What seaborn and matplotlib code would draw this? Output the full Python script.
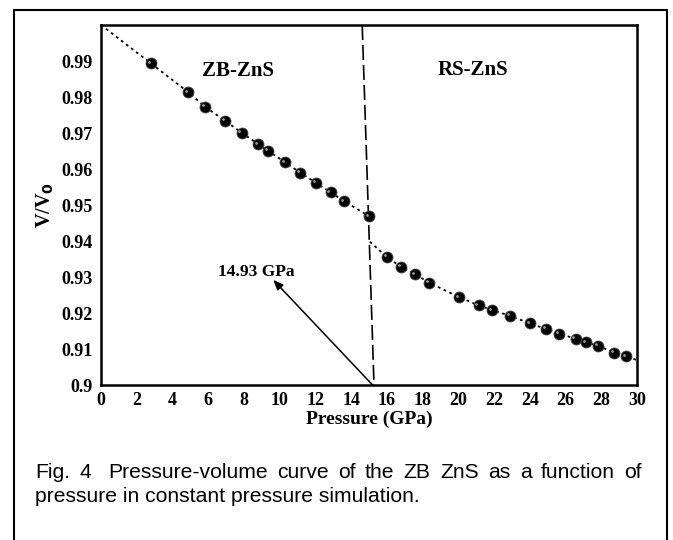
import matplotlib
matplotlib.use("Agg")
import matplotlib.pyplot as plt
import seaborn as sns
import pandas as pd
from matplotlib.patches import Rectangle

# ---- data ----
zb_p = [2.78, 4.89, 5.82, 6.94, 7.87, 8.80, 9.33, 10.30, 11.14, 12.03, 12.85, 13.6, 15.0]
zb_v = [0.9894, 0.9813, 0.9773, 0.9734, 0.9701, 0.9669, 0.9651, 0.9619, 0.9590,
        0.9562, 0.9535, 0.9511, 0.9469]
rs_p = [15.99, 16.79, 17.57, 18.37, 20.05, 21.13, 21.90, 22.9, 24.0, 24.9, 25.65,
        26.56, 27.14, 27.8, 28.74, 29.38]
rs_v = [0.9356, 0.9328, 0.9308, 0.9284, 0.9244, 0.9221, 0.9208, 0.9192, 0.9171,
        0.9156, 0.9142, 0.9129, 0.9119, 0.9109, 0.9090, 0.9080]
# fitted-curve end points
zb_line_p = [0.0] + zb_p
zb_line_v = [1.0] + zb_v
rs_line_p = [15.05] + rs_p + [30.0]
rs_line_v = [0.9398] + rs_v + [0.9069]
# transition (dashed) line
trans_p = [14.62, 15.28]
trans_v = [1.0, 0.9]
transition_label = "14.93 GPa"
x_ticks = list(range(0, 31, 2))
y_ticks = [0.9, 0.91, 0.92, 0.93, 0.94, 0.95, 0.96, 0.97, 0.98, 0.99]
y_tick_labels = ["0.9", "0.91", "0.92", "0.93", "0.94", "0.95", "0.96", "0.97", "0.98", "0.99"]
caption_line1 = ["Fig.", "4", "", "Pressure-volume", "curve", "of", "the", "ZB", "ZnS",
                 "as", "a", "function", "of"]
caption_line2 = "pressure in constant pressure simulation."

sns.set_style("white")
plt.rcParams["font.family"] = ["Liberation Serif", "DejaVu Serif"]
plt.rcParams["text.color"] = "black"
plt.rcParams["axes.labelcolor"] = "black"
plt.rcParams["xtick.color"] = "black"
plt.rcParams["ytick.color"] = "black"

fig = plt.figure(figsize=(6.73, 5.40), dpi=100)
ax = fig.add_axes([101 / 673, 1 - 385 / 540, 536 / 673, 360 / 540])

pts = pd.DataFrame({"P": zb_p + rs_p, "V": zb_v + rs_v})
zbl = pd.DataFrame({"P": zb_line_p, "V": zb_line_v})
rsl = pd.DataFrame({"P": rs_line_p, "V": rs_line_v})

sns.lineplot(data=zbl, x="P", y="V", ax=ax, color="black", lw=1.3,
             linestyle=(0, (1.5, 2.0)), sort=False)
sns.lineplot(data=rsl, x="P", y="V", ax=ax, color="black", lw=1.3,
             linestyle=(0, (1.5, 2.0)), sort=False)
ax.plot(trans_p, trans_v, color="black", lw=1.2, linestyle=(0, (9, 3)))
sns.scatterplot(data=pts, x="P", y="V", ax=ax, s=62, color="black",
                edgecolor="#444444", linewidth=0.6, zorder=5)
ax.scatter(pts["P"] - 0.12, pts["V"] + 0.0004, s=4, color="#9a9a9a", zorder=6, lw=0)

ax.annotate("", xy=(9.64, 0.9292), xytext=(15.2, 0.9),
            arrowprops=dict(arrowstyle="-|>,head_length=0.6,head_width=0.25",
                            color="black", lw=1.1, shrinkA=0, shrinkB=0))
ax.text(8.67, 0.9314, transition_label, ha="center", va="center",
        fontsize=12.5, fontweight="bold", color="black")
ax.text(7.67, 0.9873, "ZB-ZnS", ha="center", va="center", fontsize=15,
        fontweight="bold", color="black")
ax.text(20.8, 0.9875, "RS-ZnS", ha="center", va="center", fontsize=15,
        fontweight="bold", color="black")

ax.set_xlim(0, 30)
ax.set_ylim(0.9, 1.0)
ax.set_xticks(x_ticks)
ax.set_xticklabels([str(t) for t in x_ticks], fontsize=13, fontweight="bold")
ax.set_yticks(y_ticks)
ax.set_yticklabels(y_tick_labels, fontsize=13, fontweight="bold")
ax.tick_params(direction="in", length=8, width=1.5, pad=6, colors="black")
ax.tick_params(axis="x", pad=5)
for s in ax.spines.values():
    s.set_linewidth(1.8)
    s.set_color("black")
ax.set_xlabel("Pressure (GPa)", fontsize=14, fontweight="bold", labelpad=1, color="black")
ax.set_ylabel("V/V$_\\mathbf{0}$", fontsize=14.5, fontweight="bold", labelpad=4, color="black")

# outer frame (open at bottom of the crop)
fig.patches.append(Rectangle((14 / 673, -0.05), (667 - 14) / 673, 1 - 10 / 540 + 0.05,
                             transform=fig.transFigure, fill=False, lw=1.5,
                             edgecolor="black", clip_on=False))

# justified caption, first line
cap_font = dict(fontsize=15.2, family=["Liberation Sans", "DejaVu Sans"], va="baseline",
                ha="left", color="black")
x0, x1 = 35, 642
y1 = 1 - 478 / 540
renderer = fig.canvas.get_renderer()
words = [w for w in caption_line1 if w]
objs = [fig.text(0, y1, w, **cap_font) for w in words]
widths = [o.get_window_extent(renderer).width for o in objs]
gap_weights = []
for i, w in enumerate(caption_line1[1:], start=1):
    if w == "":
        continue
    gap_weights.append(1.8 if caption_line1[i - 1] == "" else 1.0)
gap_unit = (x1 - x0 - sum(widths)) / sum(gap_weights)
xp = x0
for i, o in enumerate(objs):
    o.set_x(xp / 673)
    xp += widths[i]
    if i < len(gap_weights):
        xp += gap_unit * gap_weights[i]
fig.text(x0 / 673, 1 - 502 / 540, caption_line2, **cap_font)

fig.savefig("out.png", dpi=100)
